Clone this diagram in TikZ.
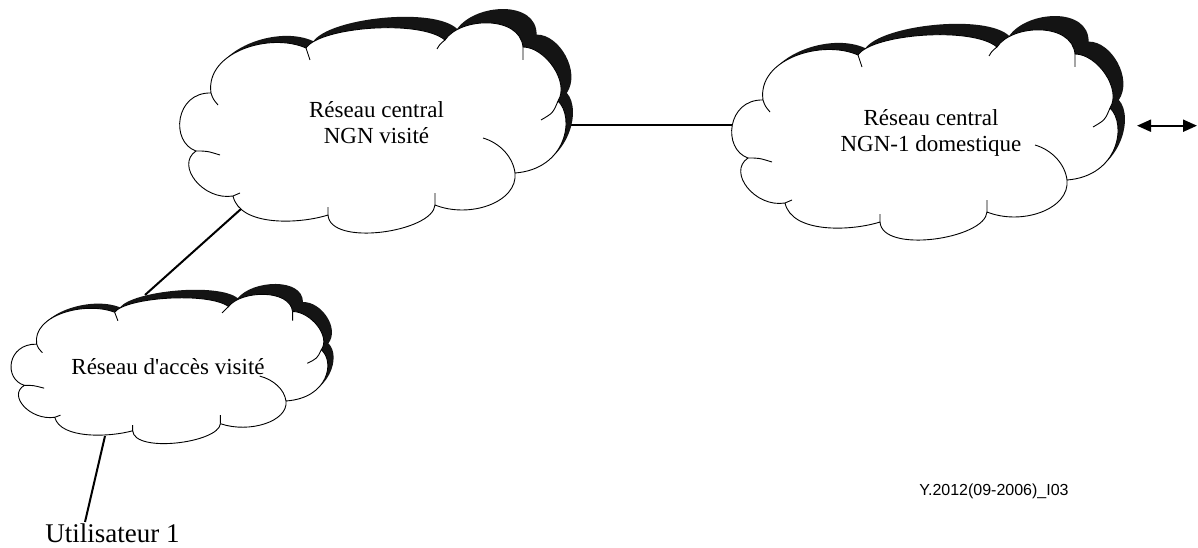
\documentclass[tikz,border=0pt]{standalone}
\usepackage{fontspec}
\setmainfont{Liberation Serif}
\newfontfamily\figsans{Liberation Sans}
\usetikzlibrary{arrows.meta}

% Cloud outline, centred on (0,0), y pointing down
\newcommand\cloudshape{(-164,-34) .. controls (-170,-75) and (-105,-95) .. (-69,-79)
  .. controls (-55,-100) and (45,-108) .. (70,-87)
  .. controls (85,-110) and (145,-112) .. (148,-80)
  .. controls (170,-80) and (195,-45) .. (183,-26)
  .. controls (200,-10) and (192,42) .. (140,46)
  .. controls (143,75) and (95,92) .. (60,78)
  .. controls (58,105) and (-45,120) .. (-47,88)
  .. controls (-75,97) and (-135,100) .. (-142,69)
  .. controls (-172,74) and (-200,38) .. (-179,24)
  .. controls (-205,15) and (-200,-35) .. (-164,-34) -- cycle}

% Short inner strokes where the puffs meet
\newcommand\cloudtails{(-164,-34) .. controls (-162,-28) .. (-157,-22)
  (-69,-79) .. controls (-67,-73) .. (-65,-67)
  (70,-87) .. controls (65,-83) .. (62,-78)
  (148,-80) .. controls (148.5,-74) .. (148,-67)
  (183,-26) .. controls (178,-14) .. (166,-7)
  (140,46) .. controls (138,30) and (125,16) .. (108,11)
  (60,78) .. controls (60,72) .. (60,66)
  (-47,88) .. controls (-47,84) .. (-47,80)
  (-142,69) .. controls (-139,67) .. (-135,66)
  (-179,24) .. controls (-168,24) .. (-155,28)}

\tikzset{
  cloudbody/.style={fill=white,draw=black,line width=0.9pt,line join=round},
  cloudshadow/.style={fill=black!92},
  tailstroke/.style={draw=black,line width=0.9pt},
  link/.style={line width=2pt},
  cloudtext/.style={font=\fontsize{23}{26}\selectfont,align=center,anchor=base,inner sep=0pt},
}

% #1,#2 centre; #3,#4 horizontal and vertical scale.
% The shadow is a sheared copy that grows towards the top right and
% vanishes along the line through the left and lower right notches.
\newcommand\netcloud[4]{%
  \begin{scope}[shift={(#1,#2)},x={(#3pt,0pt)},y={(0pt,-#4pt)}]
    \begin{scope}
      \clip (-320,-75) -- (320,93.4) -- (320,-320) -- (-320,-320) -- cycle;
      \begin{scope}[xshift=0.97pt,yshift=0.88pt,
          x={(1.0279*#3pt,0.0254*#3pt)},y={(-0.1064*#4pt,-1.0967*#4pt)}]
        \fill[cloudshadow] \cloudshape;
      \end{scope}
    \end{scope}
    \filldraw[cloudbody] \cloudshape;
    \draw[tailstroke] \cloudtails;
  \end{scope}}

\begin{document}
\begin{tikzpicture}[x=1pt,y=-1pt]
  \fill[white] (0,0) rectangle (1198,548);
  \useasboundingbox (0,0) rectangle (1198,548);

  % connection points
  \coordinate (core1-e) at (566,125);
  \coordinate (core2-w) at (735,125);
  \coordinate (core1-sw) at (241,209);
  \coordinate (acc-n) at (145,295);
  \coordinate (acc-s) at (105,436);
  \coordinate (usr-n) at (85,522);
  \coordinate (ext-a) at (1137,125.7);
  \coordinate (ext-b) at (1197,125.7);

  % links between networks
  \draw[link] (core1-e) -- (core2-w);
  \draw[link] (core1-sw) -- (acc-n);
  \draw[link] (acc-s) -- (usr-n);

  % clouds
  \netcloud{375}{127}{1}{1}
  \netcloud{927}{134}{1}{1}
  \netcloud{171.2}{368.3}{0.82}{0.71}

  % labels
  \node[cloudtext] (core1) at (376.5,144) {Réseau central\\NGN visité};
  \node[cloudtext] (core2) at (931,152) {Réseau central\\NGN-1 domestique};
  \node[cloudtext] (access) at (168,374) {Réseau d\textquotesingle accès visité};
  \node[font=\fontsize{27}{30}\selectfont,anchor=base,inner sep=0pt] (user) at (112.5,542) {Utilisateur 1};
  \node[font=\figsans\fontsize{16}{18}\selectfont,anchor=base,inner sep=0pt] (ref) at (994,495) {Y.2012(09-2006)\_I03};

  % interface towards another network
  \draw[line width=2pt,{Triangle[length=14pt,width=12pt]}-{Triangle[length=14pt,width=12pt]}] (ext-a) -- (ext-b);
\end{tikzpicture}
\end{document}
